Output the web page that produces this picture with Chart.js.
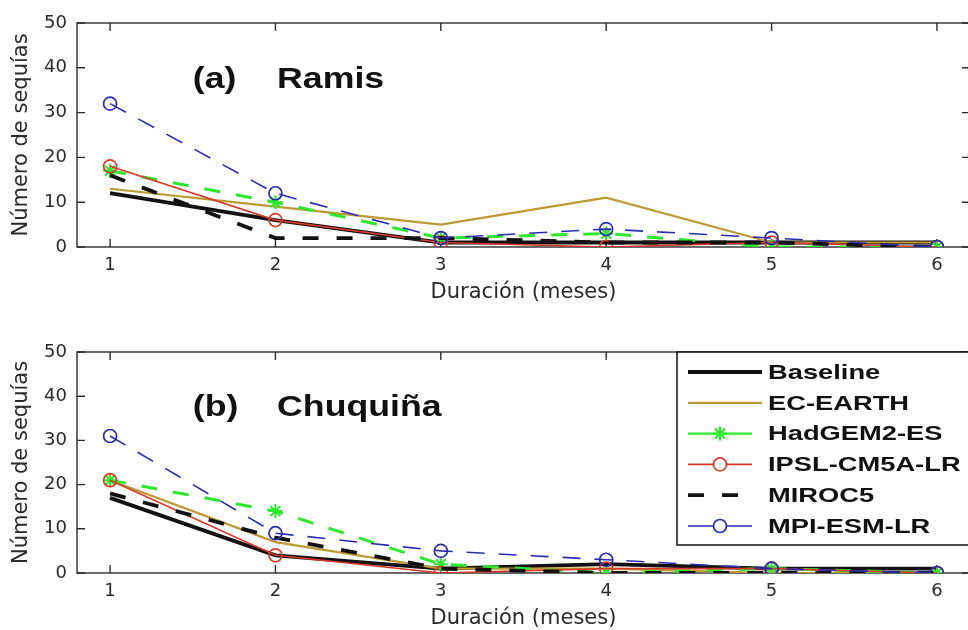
<!DOCTYPE html>
<html>
<head>
<meta charset="utf-8">
<script src="https://cdn.jsdelivr.net/npm/chart.js@4.4.1/dist/chart.umd.min.js"></script>
<style>
body { margin: 0; background: #fff; overflow: hidden; width: 968px; height: 630px; position: relative; }
canvas { position: absolute; left: 0; }
#ramis { top: 0; }
#chuquina { top: 329px; }
</style>
</head>
<body>
<canvas id="ramis" width="990" height="305"></canvas>
<canvas id="chuquina" width="990" height="302"></canvas>
<script>
// data
const durations = [1, 2, 3, 4, 5, 6];
const xTicks = [1, 2, 3, 4, 5, 6];
const yTicks = [0, 10, 20, 30, 40, 50];
const seriesNames = ['Baseline', 'EC-EARTH', 'HadGEM2-ES', 'IPSL-CM5A-LR', 'MIROC5', 'MPI-ESM-LR'];

const ramisBaseline = [12, 6, 1, 1, 1, 1];
const ramisEcEarth  = [13, 9, 5, 11, 1, 1];
const ramisHadgem   = [17, 10, 2, 3, 0, 0];
const ramisIpsl     = [18, 6, 1, 0, 1, 0];
const ramisMiroc    = [16, 2, 2, 1, 1, 0];
const ramisMpi      = [32, 12, 2, 4, 2, 0];

const chuqBaseline = [17, 4, 1, 2, 1, 1];
const chuqEcEarth  = [21, 7, 1, 1, 0, 0];
const chuqHadgem   = [21, 14, 2, 0, 1, 0];
const chuqIpsl     = [21, 4, 0, 1, 1, 0];
const chuqMiroc    = [18, 8, 1, 0, 0, 0];
const chuqMpi      = [31, 9, 5, 3, 1, 0];

// line styles, same order as seriesNames
const styles = [
    { color: '#111111', width: 3.8, dash: [], point: false, radius: 0 },
    { color: '#bb9933', width: 2.2, dash: [], point: false, radius: 0 },
    { color: '#2ee82e', width: 3, dash: [16, 16], point: 'star', radius: 7 },
    { color: '#d83a2a', width: 1.6, dash: [], point: 'circle', radius: 6.5 },
    { color: '#111111', width: 3.8, dash: [16, 18], point: false, radius: 0 },
    { color: '#2b2bb0', width: 1.6, dash: [18, 14], point: 'circle', radius: 6.5 }
];

function makeDatasets(seriesList) {
    return seriesList.map(function (values, i) {
        const s = styles[i];
        return {
            label: seriesNames[i],
            data: durations.map(function (d, k) { return { x: d, y: values[k] }; }),
            borderColor: s.color,
            borderWidth: s.width,
            borderDash: s.dash,
            pointStyle: s.point || 'circle',
            pointRadius: s.radius,
            pointBorderColor: s.color,
            pointBackgroundColor: 'rgba(0,0,0,0)',
            pointBorderWidth: s.point === 'star' ? 2 : 1.7,
            tension: 0,
            fill: false,
            order: 6 - i
        };
    });
}

function drawStretched(ctx, text, x, y, sx) {
    ctx.save();
    ctx.translate(x, y);
    ctx.scale(sx, 1);
    ctx.fillText(text, 0, 0);
    ctx.restore();
}

// box around the axes with inward ticks
const frame = {
    id: 'frame',
    beforeDatasetsDraw(chart) {
        const { ctx, chartArea: a, scales: { x, y } } = chart;
        ctx.save();
        ctx.strokeStyle = '#2b2b2b';
        ctx.lineWidth = 1.4;
        ctx.strokeRect(a.left, a.top, a.right - a.left, a.bottom - a.top);
        ctx.beginPath();
        x.ticks.forEach(function (t) {
            const px = x.getPixelForValue(t.value);
            ctx.moveTo(px, a.bottom); ctx.lineTo(px, a.bottom - 8);
            ctx.moveTo(px, a.top); ctx.lineTo(px, a.top + 8);
        });
        y.ticks.forEach(function (t) {
            const py = y.getPixelForValue(t.value);
            ctx.moveTo(a.left, py); ctx.lineTo(a.left + 8, py);
            ctx.moveTo(a.right, py); ctx.lineTo(a.right - 8, py);
        });
        ctx.stroke();
        ctx.restore();
    }
};

// "(a)  Ramis" label and the legend box
const panelText = {
    id: 'panelText',
    afterDraw(chart, args, opts) {
        const { ctx, chartArea: a, scales: { x, y } } = chart;
        ctx.save();
        ctx.fillStyle = '#111';
        ctx.textBaseline = 'alphabetic';
        ctx.font = 'bold 29px "Liberation Sans", Arial, sans-serif';
        const yb = y.getPixelForValue(35.5);
        drawStretched(ctx, opts.tag, x.getPixelForValue(1.5), yb, 1.23);
        drawStretched(ctx, opts.name, x.getPixelForValue(2.01), yb, 1.23);

        if (opts.legend) {
            const left = 677, top = a.top, bottom = a.top + 193, right = a.right;
            ctx.fillStyle = '#fff';
            ctx.fillRect(left, top, right - left, bottom - top);
            ctx.strokeStyle = '#111';
            ctx.lineWidth = 1.5;
            ctx.strokeRect(left, top, right - left, bottom - top);
            chart.data.datasets.forEach(function (ds, i) {
                const s = styles[i];
                const cy = top + 20 + i * 30.8;
                const x1 = 688, x2 = s.point ? 752 : (s.dash.length ? 750 : 762);
                ctx.save();
                ctx.strokeStyle = s.color;
                ctx.lineWidth = s.point === 'star' ? 2.4 : s.width;
                // short legend samples with markers look solid in the figure
                ctx.setLineDash(s.point ? [] : s.dash);
                ctx.beginPath();
                ctx.moveTo(x1, cy); ctx.lineTo(x2, cy);
                ctx.stroke();
                ctx.setLineDash([]);
                if (s.point) {
                    ctx.fillStyle = s.point === 'star' ? s.color : '#fff';
                    ctx.lineWidth = s.point === 'star' ? 2.2 : 1.7;
                    Chart.helpers.drawPoint(ctx, { pointStyle: s.point, rotation: 0, radius: s.radius, borderWidth: ctx.lineWidth }, 720, cy);
                }
                ctx.restore();
                ctx.fillStyle = '#111';
                ctx.textBaseline = 'middle';
                ctx.font = 'bold 21px "Liberation Sans", Arial, sans-serif';
                drawStretched(ctx, ds.label, 768, cy + 1, 1.3);
            });
        }
        ctx.restore();
    }
};

function makeChart(id, seriesList, tag, name, legend) {
    return new Chart(document.getElementById(id), {
        type: 'line',
        data: { datasets: makeDatasets(seriesList) },
        options: {
            responsive: false,
            animation: false,
            devicePixelRatio: 1,
            events: [],
            layout: { padding: { top: 23, right: 20, left: 0, bottom: 0 } },
            plugins: {
                legend: { display: false },
                tooltip: { enabled: false },
                panelText: { tag: tag, name: name, legend: legend }
            },
            scales: {
                x: {
                    type: 'linear',
                    min: 0.8,
                    max: 6.2,
                    afterBuildTicks: function (scale) {
                        scale.ticks = xTicks.map(function (v) { return { value: v }; });
                    },
                    afterFit: function (scale) { scale.height = 58; },
                    grid: { display: false, drawTicks: false },
                    border: { display: false },
                    ticks: {
                        padding: 8,
                        color: '#2a2a2a',
                        font: { family: '"DejaVu Sans", sans-serif', size: 18 },
                        callback: function (v) { return v; }
                    },
                    title: {
                        display: true,
                        text: 'Duración (meses)',
                        color: '#2a2a2a',
                        padding: { top: 0, bottom: 0 },
                        font: { family: '"DejaVu Sans", sans-serif', size: 21 }
                    }
                },
                y: {
                    min: 0,
                    max: 50,
                    afterBuildTicks: function (scale) {
                        scale.ticks = yTicks.map(function (v) { return { value: v }; });
                    },
                    afterFit: function (scale) { scale.width = 77; },
                    grid: { display: false, drawTicks: false },
                    border: { display: false },
                    ticks: {
                        padding: 10,
                        color: '#2a2a2a',
                        font: { family: '"DejaVu Sans", sans-serif', size: 18 }
                    },
                    title: {
                        display: true,
                        text: 'Número de sequías',
                        color: '#2a2a2a',
                        padding: { top: 9, bottom: 0 },
                        font: { family: '"DejaVu Sans", sans-serif', size: 21 }
                    }
                }
            }
        },
        plugins: [frame, panelText]
    });
}

const ramisChart = makeChart('ramis',
    [ramisBaseline, ramisEcEarth, ramisHadgem, ramisIpsl, ramisMiroc, ramisMpi],
    '(a)', 'Ramis', false);

const chuquinaChart = makeChart('chuquina',
    [chuqBaseline, chuqEcEarth, chuqHadgem, chuqIpsl, chuqMiroc, chuqMpi],
    '(b)', 'Chuquiña', true);
</script>
</body>
</html>
